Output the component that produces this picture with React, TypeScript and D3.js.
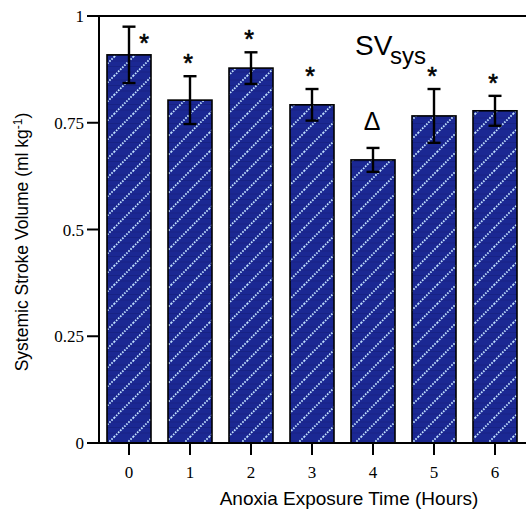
import React from "react";
import * as d3 from "d3";

// Systemic stroke volume during anoxia exposure
const hours = ["0", "1", "2", "3", "4", "5", "6"];
const meanSV = [0.909, 0.803, 0.878, 0.792, 0.663, 0.766, 0.778];
const semSV = [0.066, 0.056, 0.037, 0.037, 0.028, 0.063, 0.035];
const marks = ["*", "*", "*", "*", "Δ", "*", "*"];
const yTicks = [0, 0.25, 0.5, 0.75, 1];
const yTickLabels = ["0", "0.25", "0.5", "0.75", "1"];

const W = 526;
const H = 514;
const axisX = 99;
const y0 = 443;
const y1 = 16;

export default function App() {
  const y = d3.scaleLinear().domain([0, 1]).range([y0, y1]);
  const x = d3.scalePoint<string>().domain(hours).range([129, 495]);
  const barW = 44;
  const capW = 13;
  const serif = "'Liberation Serif', 'Times New Roman', serif";
  const sans = "'Liberation Sans', Arial, sans-serif";

  return (
    <svg
      width={W}
      height={H}
      style={{ position: "absolute", left: 0, top: 0, background: "#fff" }}
    >
      <defs>
        <pattern id="hatch" patternUnits="userSpaceOnUse" width={19} height={19}>
          <rect width={19} height={19} fill="#1b2893" />
          <path d="M0,4 H19 M0,9.5 H19 M0,15 H19" stroke="#131c78" strokeWidth={1} opacity={0.55} />
          <path
            d="M-2,21 L21,-2 M-21,21 L21,-21 M0,38 L38,0"
            stroke="#c2e2ff"
            strokeWidth={1.8}
            strokeDasharray="1.6 1.3"
          />
        </pattern>
      </defs>

      {/* bars */}
      {hours.map((h, i) => (
        <rect
          key={"b" + h}
          x={x(h)! - barW / 2}
          y={y(meanSV[i])}
          width={barW}
          height={y(0) - y(meanSV[i])}
          fill="url(#hatch)"
          stroke="#000"
          strokeWidth={1.6}
        />
      ))}

      {/* error bars */}
      {hours.map((h, i) => {
        const cx = x(h)!;
        const top = y(meanSV[i] + semSV[i]);
        const bot = y(meanSV[i] - semSV[i]);
        return (
          <g key={"e" + h} stroke="#000" strokeWidth={2.4} fill="none">
            <line x1={cx} x2={cx} y1={top} y2={bot} />
            <line x1={cx - capW / 2} x2={cx + capW / 2} y1={top} y2={top} />
            <line x1={cx - capW / 2} x2={cx + capW / 2} y1={bot} y2={bot} />
          </g>
        );
      })}

      {/* significance marks */}
      {hours.map((h, i) => {
        const cx = x(h)!;
        const top = y(meanSV[i] + semSV[i]);
        if (marks[i] === "Δ") {
          return (
            <text key={"m" + h} x={cx - 1} y={top - 18} textAnchor="middle"
              fontFamily={sans} fontSize={25} fill="#000">Δ</text>
          );
        }
        const first = i === 0;
        return (
          <text
            key={"m" + h}
            x={first ? cx + 15 : cx - 2}
            y={first ? top + 25 : top - 4}
            textAnchor="middle"
            fontFamily={sans}
            fontSize={25}
            fill="#000"
            stroke="#000"
            strokeWidth={0.6}
          >
            {marks[i]}
          </text>
        );
      })}

      {/* axes */}
      <g stroke="#000" strokeWidth={2}>
        <line x1={axisX} x2={axisX} y1={y(1)} y2={y(0)} />
        <line x1={87} x2={W} y1={y(0)} y2={y(0)} />
        <line x1={87} x2={W} y1={y(1)} y2={y(1)} />
        {yTicks.map((t) => (
          <line key={"yt" + t} x1={87} x2={axisX} y1={y(t)} y2={y(t)} />
        ))}
        {hours.map((h) => (
          <line key={"xt" + h} x1={x(h)!} x2={x(h)!} y1={y(0)} y2={y(0) + 12} />
        ))}
      </g>

      {yTicks.map((t, i) => (
        <text key={"yl" + t} x={84} y={y(t) + 6} textAnchor="end"
          fontFamily={serif} fontSize={17} fill="#000">
          {yTickLabels[i]}
        </text>
      ))}
      {hours.map((h) => (
        <text key={"xl" + h} x={x(h)!} y={478} textAnchor="middle"
          fontFamily={serif} fontSize={17} fill="#000">
          {h}
        </text>
      ))}

      {/* axis titles */}
      <text x={349} y={505} textAnchor="middle" fontFamily={sans} fontSize={19} fill="#000">
        Anoxia Exposure Time (Hours)
      </text>
      <text
        transform="translate(28,242) rotate(-90)"
        textAnchor="middle"
        fontFamily={sans}
        fontSize={17.5}
        fill="#000"
      >
        Systemic Stroke Volume (ml kg
        <tspan dy={-6} fontSize={12}>-1</tspan>
        <tspan dy={6}>)</tspan>
      </text>

      {/* panel label */}
      <text x={355} y={55} fontFamily={sans} fontSize={28} fill="#000">
        SV
        <tspan x={390} y={64} fontSize={24}>sys</tspan>
      </text>
    </svg>
  );
}
